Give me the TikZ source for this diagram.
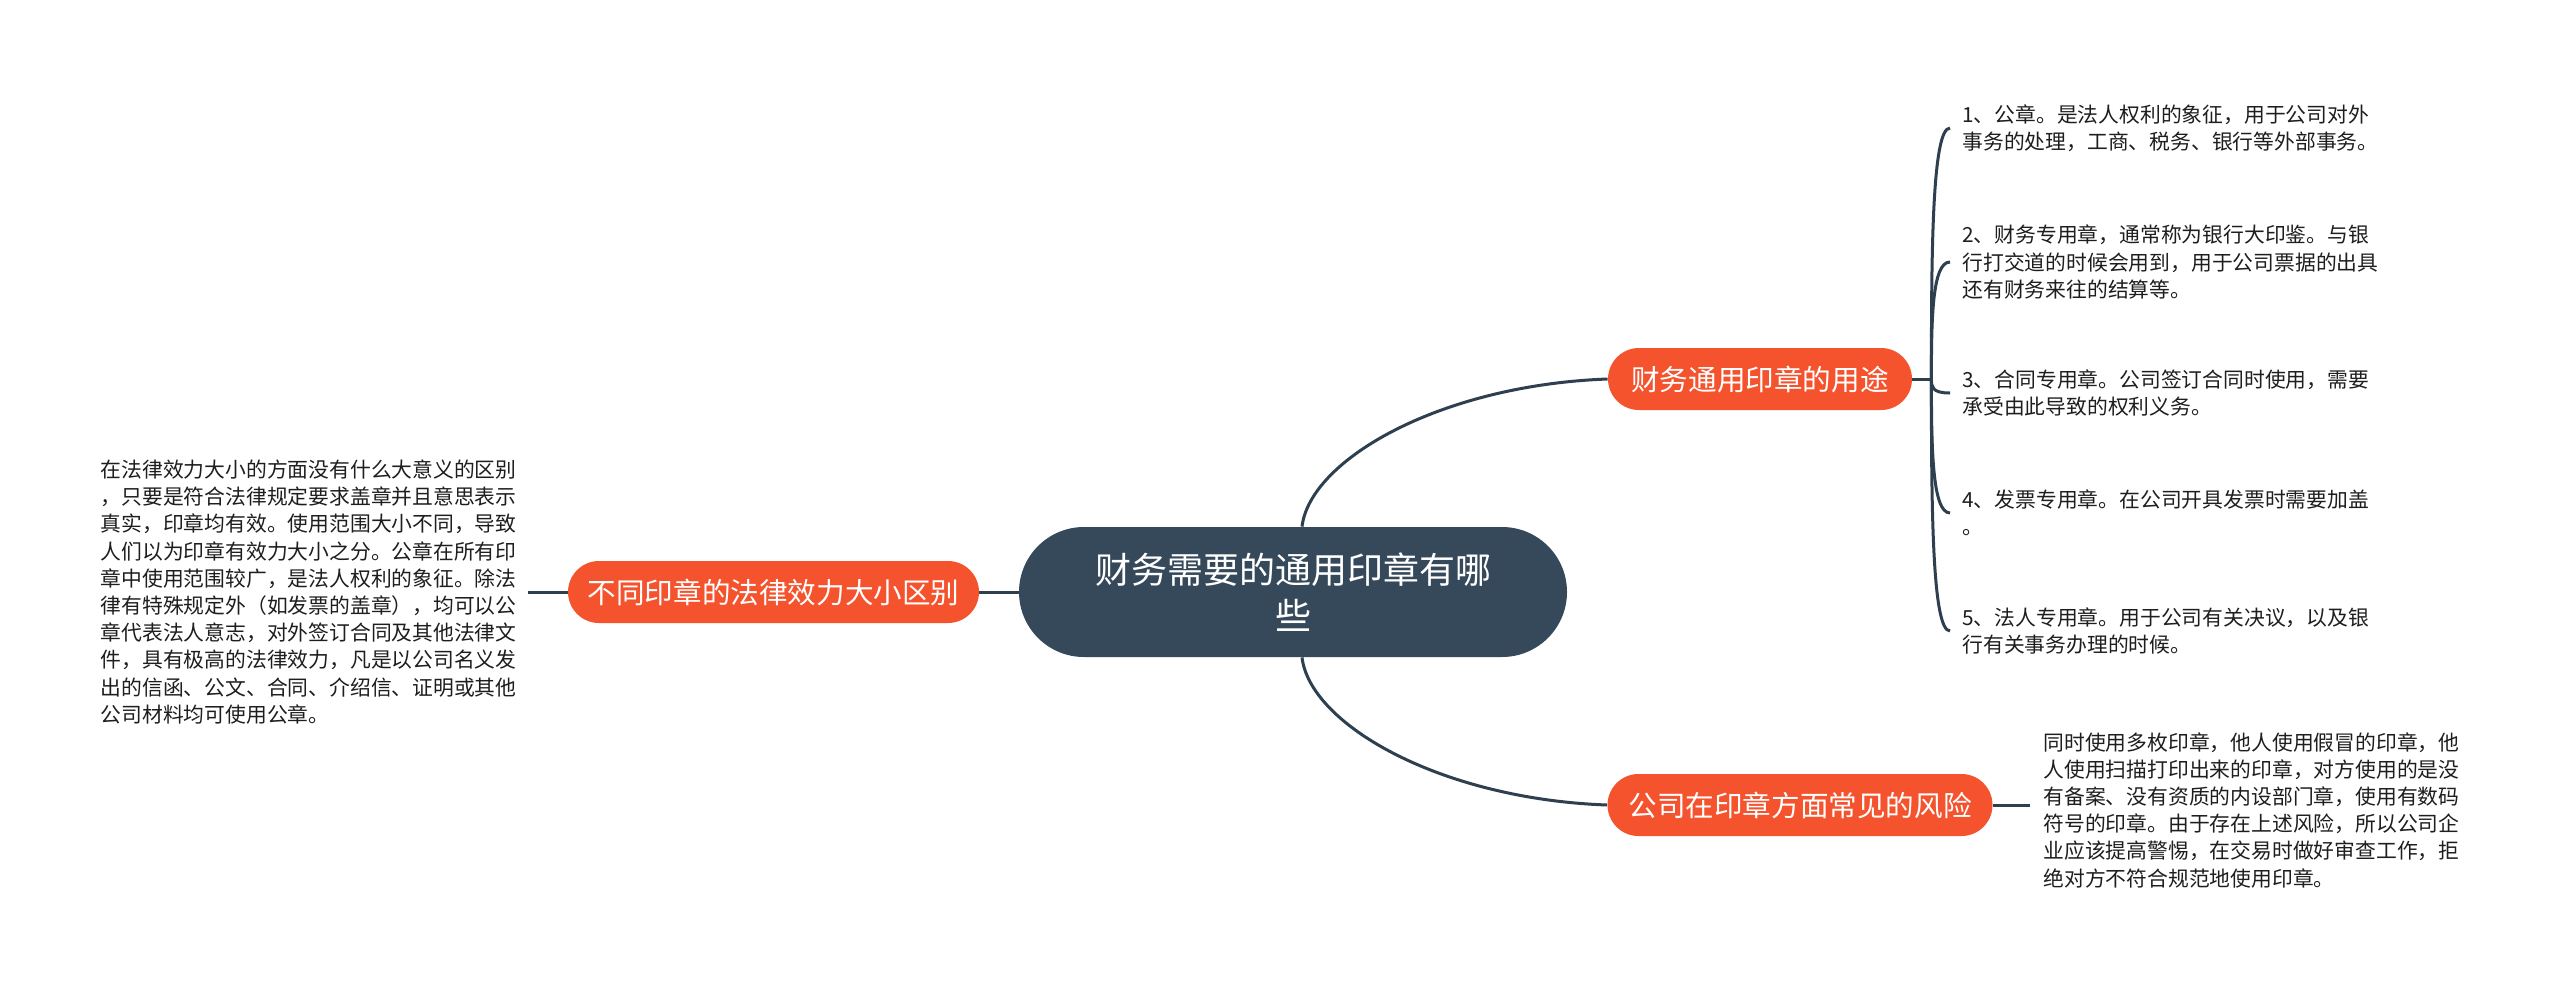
\documentclass[tikz,border=0pt]{standalone}
\usepackage{fontspec}
\setmainfont{Noto Sans CJK SC}
\definecolor{rootc}{HTML}{36495B}
\definecolor{linec}{HTML}{2E3F50}
\definecolor{orangec}{HTML}{F4532E}
\definecolor{textc}{HTML}{1E1E1E}
\begin{document}
\begin{tikzpicture}[x=0.5pt,y=-0.5pt,
  conn/.style={draw=linec,line width=1.5pt},
  rootbox/.style={fill=rootc,text=white,rounded corners=32.5pt,minimum width=274pt,minimum height=65pt,align=center,font=\fontsize{18}{23}\selectfont,inner sep=0pt},
  branch/.style={fill=orangec,text=white,rounded corners=15.5pt,minimum height=31pt,inner sep=0pt,font=\fontsize{14.3}{17}\selectfont},
  leaf/.style={align=left,font=\fontsize{10.4}{13.6}\selectfont,inner ysep=0pt,text=textc}]
\useasboundingbox[fill=white] (0,0) rectangle (2560,986);
\node[rootbox] (root) at (1293,592) {财务需要的通用印章有哪\\些};
\node[branch,minimum width=152pt] (b1) at (1760,379) {财务通用印章的用途};
\node[branch,minimum width=192.5pt] (b2) at (1800,805) {公司在印章方面常见的风险};
\node[branch,minimum width=205.5pt] (b3) at (773.5,592) {不同印章的法律效力大小区别};

\node[leaf,anchor=west,inner xsep=6pt] (i1) at (1950,128) {1、公章。是法人权利的象征，用于公司对外\\事务的处理，工商、税务、银行等外部事务。};
\node[leaf,anchor=west,inner xsep=6pt] (i2) at (1950,262) {2、财务专用章，通常称为银行大印鉴。与银\\行打交道的时候会用到，用于公司票据的出具\\还有财务来往的结算等。};
\node[leaf,anchor=west,inner xsep=6pt] (i3) at (1950,393) {3、合同专用章。公司签订合同时使用，需要\\承受由此导致的权利义务。};
\node[leaf,anchor=west,inner xsep=6pt] (i4) at (1950,513) {4、发票专用章。在公司开具发票时需要加盖\\。};
\node[leaf,anchor=west,inner xsep=6pt] (i5) at (1950,631) {5、法人专用章。用于公司有关决议，以及银\\行有关事务办理的时候。};

\node[leaf,anchor=west,inner xsep=6.5pt] (r1) at (2030,810) {同时使用多枚印章，他人使用假冒的印章，他\\人使用扫描打印出来的印章，对方使用的是没\\有备案、没有资质的内设部门章，使用有数码\\符号的印章。由于存在上述风险，所以公司企\\业应该提高警惕，在交易时做好审查工作，拒\\绝对方不符合规范地使用印章。};

\node[leaf,anchor=east,inner xsep=5.5pt] (l1) at (528,592) {在法律效力大小的方面没有什么大意义的区别\\，只要是符合法律规定要求盖章并且意思表示\\真实，印章均有效。使用范围大小不同，导致\\人们以为印章有效力大小之分。公章在所有印\\章中使用范围较广，是法人权利的象征。除法\\律有特殊规定外（如发票的盖章），均可以公\\章代表法人意志，对外签订合同及其他法律文\\件，具有极高的法律效力，凡是以公司名义发\\出的信函、公文、合同、介绍信、证明或其他\\公司材料均可使用公章。};

\draw[conn] ([xshift=4.5pt]root.north) .. controls +(8,-67) and +(-167,6) .. (b1.west);
\draw[conn] ([xshift=4.5pt]root.south) .. controls +(8,67) and +(-167,-6) .. (b2.west);
\draw[conn] (root.west) -- (b3.east);
\draw[conn] (b3.west) -- (l1.east);
\draw[conn] (b2.east) -- (b2.east -| r1.west);
\draw[conn] (b1.east) -- ++(19,0) coordinate (j);
\draw[conn] (j) .. controls +(0,-126) and +(-18,0) .. (i1.west);
\draw[conn] (j) .. controls +(0,-59) and +(-18,0) .. (i2.west);
\draw[conn] (j) .. controls +(0,8) and +(-18,0) .. (i3.west);
\draw[conn] (j) .. controls +(0,67) and +(-18,0) .. (i4.west);
\draw[conn] (j) .. controls +(0,126) and +(-18,0) .. (i5.west);
\end{tikzpicture}
\end{document}
